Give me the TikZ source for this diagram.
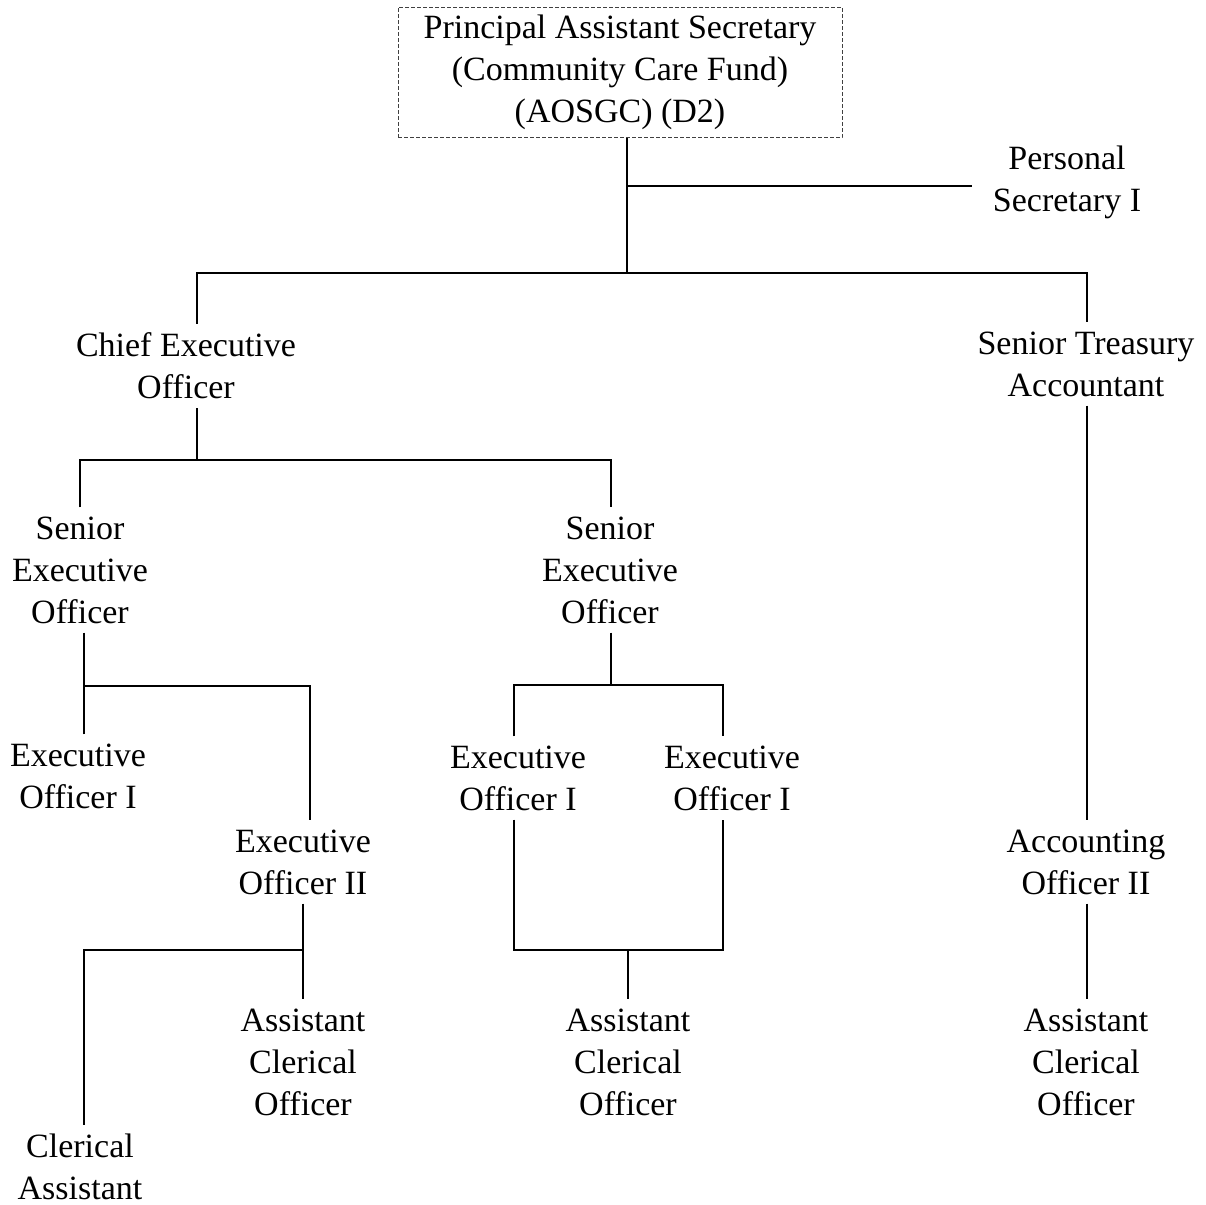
\documentclass[tikz,border=0pt]{standalone}
\usepackage{fontspec}
\setmainfont{Liberation Serif}
\usepackage{tikz}
\usetikzlibrary{calc}

\begin{document}
\begin{tikzpicture}[x=0.5pt,y=-0.5pt,line width=1.2pt,
    every node/.style={align=center,inner sep=4pt,font=\fontsize{17}{21}\selectfont}]
    \useasboundingbox (0,0) rectangle (1206,1205);
    \node [draw,dashed,dash pattern=on 2pt off 1pt,line width=0.5pt,black!75,text=black,
           minimum width=222pt,minimum height=64.5pt] (pas) at (620,72.5)
          {Principal Assistant Secretary\\(Community Care Fund)\\(AOSGC) (D2)};
    \node (ps) at (1067,182) {Personal\\Secretary I};
    \node (ceo) at (186,366) {Chief Executive\\Officer};
    \node (sta) at (1086,364) {Senior Treasury\\Accountant};
    \node (seo1) at (80,570) {Senior\\Executive\\Officer};
    \node (seo2) at (610,570) {Senior\\Executive\\Officer};
    \node (eo1a) at (78,776) {Executive\\Officer I};
    \node (eo2) at (303,862) {Executive\\Officer II};
    \node (eo1b) at (518,778) {Executive\\Officer I};
    \node (eo1c) at (732,778) {Executive\\Officer I};
    \node (ao2) at (1086,862) {Accounting\\Officer II};
    \node (aco1) at (303,1062) {Assistant\\Clerical\\Officer};
    \node (aco2) at (628,1062) {Assistant\\Clerical\\Officer};
    \node (aco3) at (1086,1062) {Assistant\\Clerical\\Officer};
    \node (ca) at (80,1167) {Clerical\\Assistant};
    % junctions
    \coordinate (j0) at (627,186);
    \coordinate (j1) at (627,273);
    \coordinate (b1) at (197,273);
    \coordinate (b2) at (1087,273);
    \coordinate (c1) at (197,460);
    \coordinate (c2) at (80,460);
    \coordinate (c3) at (611,460);
    \coordinate (d1) at (84,686);
    \coordinate (d2) at (310,686);
    \coordinate (e1) at (303,950);
    \coordinate (e2) at (84,950);
    \coordinate (f1) at (611,685);
    \coordinate (f2) at (514,685);
    \coordinate (f3) at (723,685);
    \coordinate (g1) at (514,950);
    \coordinate (g2) at (723,950);
    \coordinate (g3) at (628,950);
    % connectors
    \draw (pas.south -| j1) -- (j1);
    \draw (j0) -- ($(ps.west |- j0)+(-12,0)$);
    \draw (ceo.north -| b1) -- (b1) -- (b2) -- (sta.north -| b2);
    \draw (ceo.south -| c1) -- (c1);
    \draw (seo1.north -| c2) -- (c2) -- (c3) -- (seo2.north -| c3);
    \draw (seo1.south -| d1) -- (d1);
    \draw (eo1a.north -| d1) -- (d1) -- (d2) -- (eo2.north -| d2);
    \draw (eo2.south -| e1) -- (aco1.north -| e1);
    \draw (e1) -- (e2) -- (ca.north -| e2);
    \draw (seo2.south -| f1) -- (f1);
    \draw (eo1b.north -| f2) -- (f2) -- (f3) -- (eo1c.north -| f3);
    \draw (eo1b.south -| g1) -- (g1) -- (g2) -- (eo1c.south -| g2);
    \draw (g3) -- (aco2.north -| g3);
    \draw (sta.south -| b2) -- (ao2.north -| b2);
    \draw (ao2.south -| b2) -- (aco3.north -| b2);
\end{tikzpicture}
\end{document}
